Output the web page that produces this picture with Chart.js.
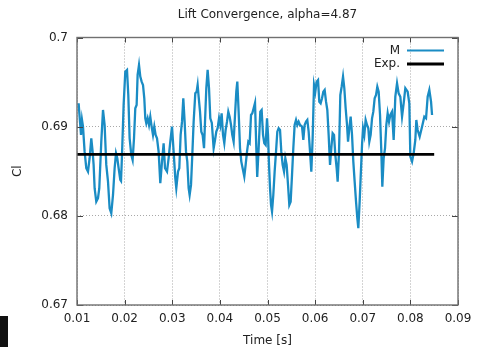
<!DOCTYPE html>
<html>
<head>
<meta charset="utf-8">
<script src="https://cdn.jsdelivr.net/npm/chart.js@4.4.0/dist/chart.umd.min.js"></script>
<style>
  body { margin: 0; background: #fff; }
  #wrap { position: relative; width: 480px; height: 347px; }
  #edge { position: absolute; left: 0; top: 316px; width: 8px; height: 31px; background: #111; }
</style>
</head>
<body>
<div id="wrap">
  <canvas id="liftChart" width="480" height="347"></canvas>
  <div id="edge"></div>
</div>
<script>
// lift coefficient history of run M
const timeM = [
  0.01021, 0.01034, 0.01063, 0.01084, 0.01105, 0.01126, 0.01160, 0.01195, 0.01231, 0.01265,
  0.01300, 0.01328, 0.01349, 0.01370, 0.01405, 0.01441, 0.01468, 0.01510, 0.01546, 0.01580,
  0.01615, 0.01651, 0.01685, 0.01720, 0.01756, 0.01790, 0.01819, 0.01846, 0.01874, 0.01909,
  0.01924, 0.01945, 0.01979, 0.02014, 0.02050, 0.02077, 0.02105, 0.02140, 0.02168, 0.02197,
  0.02224, 0.02252, 0.02273, 0.02302, 0.02329, 0.02357, 0.02386, 0.02413, 0.02434, 0.02455,
  0.02483, 0.02512, 0.02539, 0.02567, 0.02596, 0.02623, 0.02651, 0.02680, 0.02714, 0.02749,
  0.02785, 0.02819, 0.02848, 0.02890, 0.02924, 0.02959, 0.02995, 0.03029, 0.03064, 0.03085,
  0.03121, 0.03148, 0.03176, 0.03205, 0.03232, 0.03260, 0.03289, 0.03316, 0.03344, 0.03365,
  0.03394, 0.03421, 0.03449, 0.03484, 0.03512, 0.03533, 0.03554, 0.03583, 0.03610, 0.03638,
  0.03667, 0.03688, 0.03715, 0.03743, 0.03772, 0.03799, 0.03831, 0.03869, 0.03898, 0.03925,
  0.03953, 0.03982, 0.04009, 0.04037, 0.04066, 0.04093, 0.04121, 0.04150, 0.04177, 0.04205,
  0.04234, 0.04261, 0.04289, 0.04318, 0.04345, 0.04366, 0.04394, 0.04423, 0.04450, 0.04478,
  0.04513, 0.04541, 0.04570, 0.04597, 0.04625, 0.04654, 0.04681, 0.04709, 0.04738, 0.04765,
  0.04784, 0.04814, 0.04849, 0.04877, 0.04906, 0.04933, 0.04961, 0.04990, 0.05011, 0.05032,
  0.05053, 0.05074, 0.05095, 0.05122, 0.05150, 0.05179, 0.05206, 0.05234, 0.05263, 0.05290,
  0.05318, 0.05347, 0.05374, 0.05402, 0.05431, 0.05458, 0.05486, 0.05515, 0.05542, 0.05570,
  0.05599, 0.05626, 0.05654, 0.05683, 0.05725, 0.05752, 0.05780, 0.05809, 0.05836, 0.05864,
  0.05893, 0.05920, 0.05948, 0.05977, 0.06004, 0.06032, 0.06061, 0.06088, 0.06116, 0.06145,
  0.06172, 0.06200, 0.06229, 0.06256, 0.06284, 0.06313, 0.06340, 0.06368, 0.06397, 0.06424,
  0.06452, 0.06473, 0.06502, 0.06529, 0.06557, 0.06586, 0.06613, 0.06641, 0.06670, 0.06691,
  0.06718, 0.06746, 0.06775, 0.06802, 0.06830, 0.06859, 0.06886, 0.06907, 0.06935, 0.06964,
  0.06985, 0.07006, 0.07033, 0.07061, 0.07090, 0.07117, 0.07138, 0.07166, 0.07195, 0.07222,
  0.07250, 0.07279, 0.07306, 0.07334, 0.07363, 0.07390, 0.07411, 0.07439, 0.07468, 0.07495,
  0.07523, 0.07552, 0.07579, 0.07615, 0.07649, 0.07684, 0.07720, 0.07754, 0.07789, 0.07825,
  0.07859, 0.07894, 0.07943, 0.07978, 0.07999, 0.08035, 0.08069, 0.08104, 0.08125, 0.08153,
  0.08195, 0.08245, 0.08293, 0.08329, 0.08363, 0.08398, 0.08434, 0.08455
];
const clM = [
  0.69243, 0.69262, 0.69056, 0.68907, 0.69075, 0.69000, 0.68720, 0.68534, 0.68496, 0.68646,
  0.68870, 0.68720, 0.68571, 0.68310, 0.68159, 0.68197, 0.68310, 0.68832, 0.69187, 0.69019,
  0.68571, 0.68384, 0.68085, 0.68029, 0.68234, 0.68534, 0.68702, 0.68646, 0.68534, 0.68403,
  0.68391, 0.68683, 0.69243, 0.69617, 0.69636, 0.69355, 0.68870, 0.68683, 0.68627, 0.68870,
  0.69206, 0.69243, 0.69580, 0.69692, 0.69561, 0.69505, 0.69468, 0.69318, 0.69094, 0.69038,
  0.69094, 0.69019, 0.69112, 0.69000, 0.68907, 0.69000, 0.68907, 0.68870, 0.68720, 0.68366,
  0.68608, 0.68814, 0.68534, 0.68496, 0.68646, 0.68832, 0.69000, 0.68720, 0.68422, 0.68310,
  0.68496, 0.68534, 0.68907, 0.69056, 0.69318, 0.69056, 0.68720, 0.68608, 0.68310, 0.68234,
  0.68347, 0.68683, 0.69056, 0.69374, 0.69392, 0.69468, 0.69336, 0.69168, 0.68944, 0.68907,
  0.68758, 0.69056, 0.69431, 0.69636, 0.69431, 0.69094, 0.69042, 0.68758, 0.68851, 0.68944,
  0.68982, 0.69094, 0.69019, 0.69150, 0.68907, 0.68814, 0.68963, 0.69056, 0.69168, 0.69112,
  0.69019, 0.68907, 0.68832, 0.69131, 0.69392, 0.69505, 0.69168, 0.68758, 0.68608, 0.68534,
  0.68440, 0.68571, 0.68720, 0.68832, 0.68814, 0.69131, 0.69150, 0.69206, 0.69266, 0.68758,
  0.68436, 0.68758, 0.69168, 0.69187, 0.68907, 0.68814, 0.68795, 0.69094, 0.68907, 0.68571,
  0.68310, 0.68122, 0.68047, 0.68234, 0.68496, 0.68720, 0.68944, 0.68982, 0.68963, 0.68720,
  0.68571, 0.68496, 0.68646, 0.68571, 0.68347, 0.68122, 0.68159, 0.68459, 0.68758, 0.69019,
  0.69075, 0.69019, 0.69056, 0.69019, 0.69000, 0.68851, 0.69019, 0.69056, 0.69075, 0.68944,
  0.68720, 0.68496, 0.68870, 0.69468, 0.69392, 0.69505, 0.69524, 0.69280, 0.69262, 0.69318,
  0.69392, 0.69411, 0.69280, 0.69187, 0.68907, 0.68571, 0.68758, 0.68926, 0.68907, 0.68683,
  0.68534, 0.68384, 0.68720, 0.69355, 0.69448, 0.69561, 0.69431, 0.69206, 0.69019, 0.68832,
  0.68982, 0.69112, 0.68907, 0.68608, 0.68384, 0.68159, 0.67973, 0.67861, 0.68159, 0.68534,
  0.68795, 0.68982, 0.68907, 0.69075, 0.69019, 0.68982, 0.68832, 0.68907, 0.69094, 0.69168,
  0.69318, 0.69355, 0.69448, 0.69392, 0.69131, 0.68720, 0.68327, 0.68646, 0.68758, 0.69019,
  0.69150, 0.69056, 0.69131, 0.69168, 0.68851, 0.69336, 0.69487, 0.69374, 0.69336, 0.69112,
  0.69262, 0.69431, 0.69392, 0.69262, 0.68664, 0.68608, 0.68702, 0.68851, 0.69075, 0.68963,
  0.68888, 0.69000, 0.69112, 0.69094, 0.69336, 0.69411, 0.69280, 0.69131
];

// experimental reference value
const timeExp = [0.01, 0.085];
const clExp = [0.6869, 0.6869];

const xTicks = [0.01, 0.02, 0.03, 0.04, 0.05, 0.06, 0.07, 0.08, 0.09];
const xTickLabels = ['0.01', '0.02', '0.03', '0.04', '0.05', '0.06', '0.07', '0.08', '0.09'];
const yTicks = [0.67, 0.68, 0.69, 0.70];
const yTickLabels = ['0.67', '0.68', '0.69', '0.7'];

const seriesNames = ['M', 'Exp.'];
const seriesColors = ['#1a8cc4', '#000000'];

const toPoints = (xs, ys) => xs.map((x, i) => ({ x: x, y: ys[i] }));

Chart.defaults.font.family = "'DejaVu Sans', sans-serif";
Chart.defaults.font.size = 12;
Chart.defaults.color = '#222';

// gnuplot-like frame, inward ticks, title and key
const framePlugin = {
  id: 'frame',
  afterDraw(chart) {
    const { ctx, chartArea: a, scales } = chart;
    ctx.save();
    ctx.strokeStyle = '#444';
    ctx.lineWidth = 1;
    ctx.beginPath();
    xTicks.forEach(v => {
      const px = Math.round(scales.x.getPixelForValue(v)) + 0.5;
      ctx.moveTo(px, a.bottom); ctx.lineTo(px, a.bottom - 5);
      ctx.moveTo(px, a.top); ctx.lineTo(px, a.top + 5);
    });
    yTicks.forEach(v => {
      const py = Math.round(scales.y.getPixelForValue(v)) + 0.5;
      ctx.moveTo(a.left, py); ctx.lineTo(a.left + 6, py);
      ctx.moveTo(a.right, py); ctx.lineTo(a.right - 6, py);
    });
    ctx.stroke();

    ctx.strokeStyle = '#707070';
    ctx.lineWidth = 1.4;
    ctx.strokeRect(a.left, a.top, a.right - a.left, a.bottom - a.top);

    ctx.fillStyle = '#222';
    ctx.font = "12px 'DejaVu Sans', sans-serif";
    ctx.textAlign = 'center';
    ctx.textBaseline = 'middle';
    ctx.fillText('Lift Convergence, alpha=4.87', (a.left + a.right) / 2, 15);

    // key, text then line sample
    const rows = [50.5, 64];
    ctx.textAlign = 'right';
    seriesNames.forEach((name, i) => {
      ctx.fillStyle = '#222';
      ctx.fillText(name, 400, rows[i]);
      ctx.strokeStyle = seriesColors[i];
      ctx.lineWidth = i === 0 ? 2 : 2.8;
      ctx.beginPath();
      ctx.moveTo(407, rows[i]);
      ctx.lineTo(444, rows[i]);
      ctx.stroke();
    });
    ctx.restore();
  }
};

new Chart(document.getElementById('liftChart'), {
  type: 'line',
  data: {
    datasets: [
      {
        label: seriesNames[1],
        data: toPoints(timeExp, clExp),
        borderColor: seriesColors[1],
        borderWidth: 2.8,
        pointRadius: 0,
        order: 0
      },
      {
        label: seriesNames[0],
        data: toPoints(timeM, clM),
        borderColor: seriesColors[0],
        borderWidth: 2.3,
        pointRadius: 0,
        tension: 0,
        order: 1
      }
    ]
  },
  options: {
    responsive: false,
    animation: false,
    devicePixelRatio: 1,
    layout: { padding: { left: 0, top: 37.5, right: 22, bottom: 0 } },
    scales: {
      x: {
        type: 'linear',
        min: 0.01,
        max: 0.09,
        afterBuildTicks: s => { s.ticks = xTicks.map(v => ({ value: v })); },
        afterFit: s => { s.height = 42; },
        ticks: {
          padding: 7,
          maxRotation: 0,
          autoSkip: false,
          callback: (v, i) => xTickLabels[i]
        },
        grid: { color: '#a8a8a8', drawTicks: false },
        border: { display: false, dash: [1, 2] },
        title: { display: true, text: 'Time [s]', padding: { top: 0, bottom: -1 } }
      },
      y: {
        type: 'linear',
        min: 0.67,
        max: 0.70,
        afterBuildTicks: s => { s.ticks = yTicks.map(v => ({ value: v })); },
        afterFit: s => { s.width = 77; },
        ticks: {
          padding: 9,
          autoSkip: false,
          callback: (v, i) => yTickLabels[i]
        },
        grid: { color: '#a8a8a8', drawTicks: false },
        border: { display: false, dash: [1, 2] },
        title: { display: true, text: 'Cl', padding: { top: 11, bottom: 0 } }
      }
    },
    plugins: {
      legend: { display: false },
      title: { display: false },
      tooltip: { enabled: false }
    }
  },
  plugins: [framePlugin]
});
</script>
</body>
</html>
